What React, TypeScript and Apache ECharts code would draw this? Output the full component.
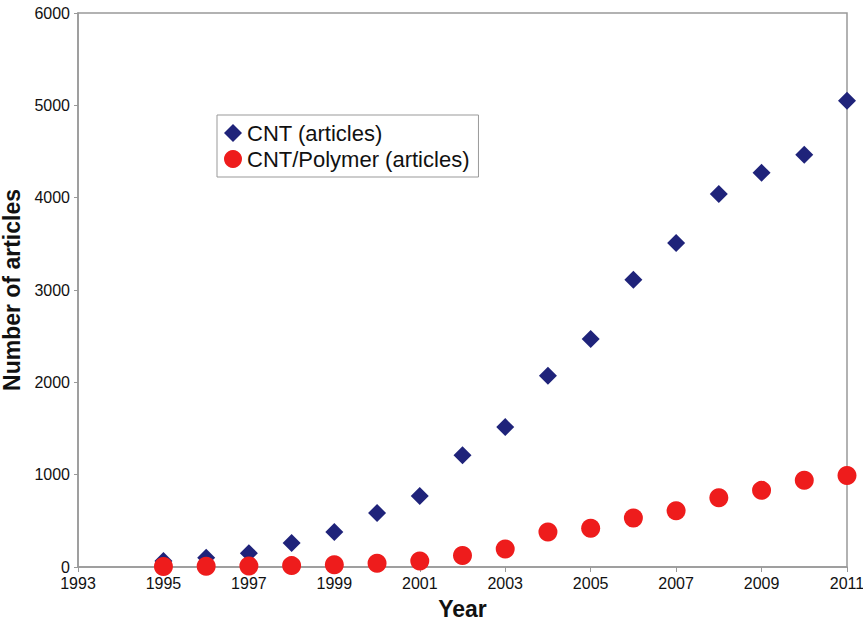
import React, { useEffect, useRef } from "react";
import * as echarts from "echarts";

const years = [1995, 1996, 1997, 1998, 1999, 2000, 2001, 2002, 2003, 2004, 2005, 2006, 2007, 2008, 2009, 2010, 2011];
const cntArticles = [65, 100, 150, 260, 380, 585, 770, 1210, 1515, 2070, 2470, 3110, 3510, 4040, 4270, 4465, 5050];
const cntPolymerArticles = [5, 8, 10, 15, 25, 40, 65, 125, 195, 380, 420, 530, 610, 750, 830, 940, 990];

export default function App() {
  const ref = useRef<HTMLDivElement>(null);
  useEffect(() => {
    const chart = echarts.init(ref.current!, null, { renderer: "svg" });
    const font = "Arial, 'Liberation Sans', sans-serif";
    chart.setOption({
      animation: false,
      backgroundColor: "#ffffff",
      textStyle: { fontFamily: font },
      grid: {
        left: 78, right: 16, top: 13, bottom: 55,
        outerBoundsMode: "none", containLabel: false,
        show: true, borderColor: "#999", borderWidth: 1.5, backgroundColor: "transparent",
      },
      legend: {
        left: 217,
        top: 115,
        orient: "vertical",
        borderColor: "#999",
        borderWidth: 1,
        padding: [7, 9, 7, 7],
        itemGap: 4,
        itemWidth: 18,
        itemHeight: 18,
        textStyle: { fontSize: 22, color: "#111", fontFamily: font },
        data: ["CNT (articles)", "CNT/Polymer (articles)"],
      },
      xAxis: {
        type: "value",
        min: 1993,
        max: 2011,
        interval: 2,
        name: "Year",
        nameLocation: "middle",
        nameGap: 30,
        nameTextStyle: { fontSize: 23, fontWeight: "bold", color: "#111", fontFamily: font },
        axisLine: { lineStyle: { color: "#999", width: 1.5 } },
        axisTick: { show: true, length: 5, lineStyle: { color: "#999" } },
        axisLabel: { fontSize: 16, color: "#111", margin: 8, formatter: (v: number) => String(v) },
        splitLine: { show: false },
      },
      yAxis: {
        type: "value",
        min: 0,
        max: 6000,
        interval: 1000,
        name: "Number of articles",
        nameLocation: "middle",
        nameGap: 52,
        nameTextStyle: { fontSize: 23, fontWeight: "bold", color: "#111", fontFamily: font },
        axisLine: { show: true, lineStyle: { color: "#999", width: 1.5 } },
        axisTick: { show: true, length: 4, lineStyle: { color: "#999" } },
        axisLabel: { fontSize: 16, color: "#111", margin: 8, formatter: (v: number) => String(v) },
        splitLine: { show: false },
      },
      series: [
        {
          name: "CNT (articles)",
          type: "scatter",
          symbol: "diamond",
          symbolSize: 18,
          itemStyle: { color: "#1f237a", opacity: 1 },
          data: years.map((y, i) => [y, cntArticles[i]]),
          z: 2,
        },
        {
          name: "CNT/Polymer (articles)",
          type: "scatter",
          symbol: "circle",
          symbolSize: 19,
          itemStyle: { color: "#ee1c1c", opacity: 1 },
          data: years.map((y, i) => [y, cntPolymerArticles[i]]),
          z: 3,
        },
      ],
    });
    return () => chart.dispose();
  }, []);
  return <div ref={ref} style={{ position: "fixed", left: 0, top: 0, width: 863, height: 622 }} />;
}
